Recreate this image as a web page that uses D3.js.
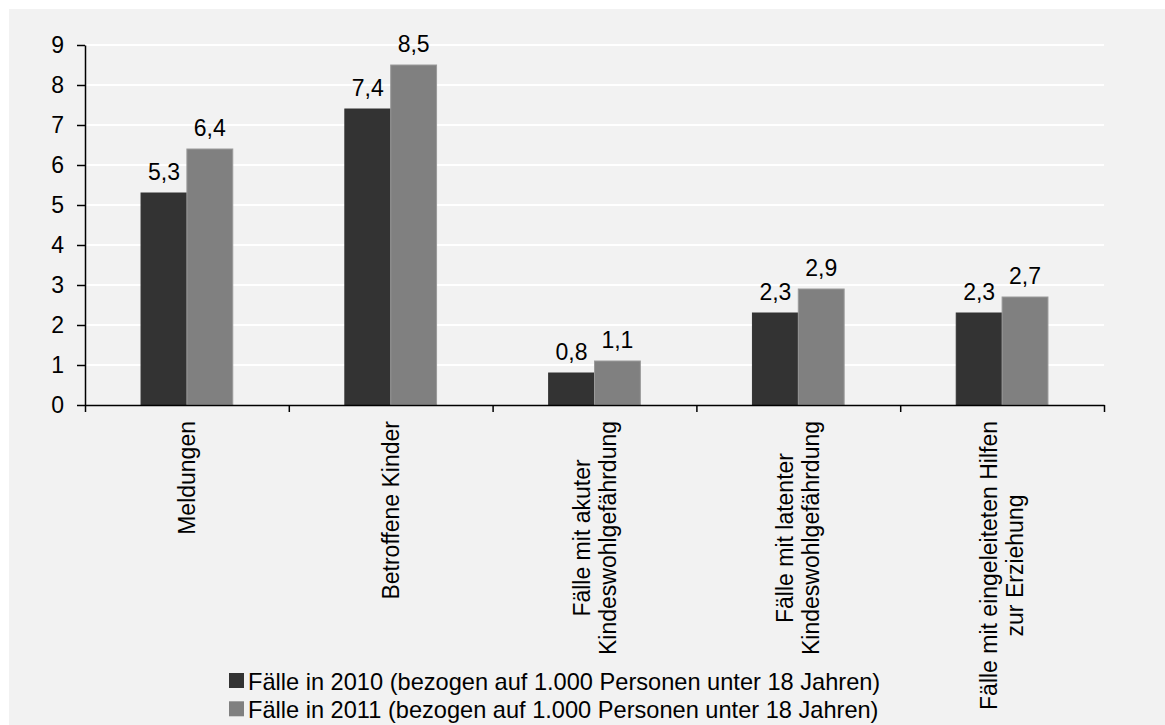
<!DOCTYPE html>
<html>
<head>
<meta charset="utf-8">
<script src="https://cdn.jsdelivr.net/npm/d3@7"></script>
<style>
  html, body { margin: 0; padding: 0; background: #ffffff; }
  svg { display: block; }
</style>
</head>
<body>
<svg id="chart" width="1165" height="725"></svg>
<script>
const categories = [
  ["Meldungen"],
  ["Betroffene Kinder"],
  ["Fälle mit akuter", "Kindeswohlgefährdung"],
  ["Fälle mit latenter", "Kindeswohlgefährdung"],
  ["Fälle mit eingeleiteten Hilfen", "zur Erziehung"]
];
const seriesNames = [
  "Fälle in 2010 (bezogen auf 1.000 Personen unter 18 Jahren)",
  "Fälle in 2011 (bezogen auf 1.000 Personen unter 18 Jahren)"
];
const values2010 = [5.3, 7.4, 0.8, 2.3, 2.3];
const values2011 = [6.4, 8.5, 1.1, 2.9, 2.7];
const yTicks = [0, 1, 2, 3, 4, 5, 6, 7, 8, 9];

(function () {
const colors = ["#333333", "#808080"];
const strokes = ["#333333", "#9a9a9a"];
const FONT = "'Liberation Sans', Arial, sans-serif";
const FS = 23;

const svg = d3.select("#chart");
svg.append("rect").attr("x", 9).attr("y", 9).attr("width", 1165 - 9).attr("height", 725 - 9).attr("fill", "#f2f2f2");

const mLeft = 85, mRight = 1104, mTop = 45, mBottom = 405;
const catIdx = categories.map((d, i) => i);
const x = d3.scaleBand().domain(catIdx).range([mLeft, mRight]).padding(0);
const x1 = d3.scaleBand().domain([0, 1]).range([x.bandwidth() * 0.275, x.bandwidth() * 0.725]).padding(0);
const y = d3.scaleLinear().domain([0, 9]).range([mBottom, mTop]);

// gridlines
svg.append("g").selectAll("line").data(yTicks.filter(t => t > 0)).join("line")
  .attr("x1", mLeft).attr("x2", mRight)
  .attr("y1", d => y(d)).attr("y2", d => y(d))
  .attr("stroke", "#ffffff").attr("stroke-width", 2);

// bars
const series = [values2010, values2011];
series.forEach((vals, s) => {
  svg.append("g").selectAll("rect").data(vals).join("rect")
    .attr("x", (d, i) => x(i) + x1(s))
    .attr("y", d => y(d))
    .attr("width", x1.bandwidth())
    .attr("height", d => y(0) - y(d))
    .attr("fill", colors[s])
    .attr("stroke", strokes[s]).attr("stroke-width", 1);
  svg.append("g").selectAll("text").data(vals).join("text")
    .attr("x", (d, i) => x(i) + x1(s) + x1.bandwidth() / 2)
    .attr("y", d => y(d) - 13)
    .attr("text-anchor", "middle")
    .attr("font-family", FONT).attr("font-size", FS).attr("fill", "#000")
    .text(d => d.toFixed(1).replace(".", ","));
});

// y axis
const yAxis = d3.axisLeft(y).tickValues(yTicks).tickSize(8).tickPadding(13).tickSizeOuter(0).tickFormat(d3.format("d"));
const gy = svg.append("g").attr("transform", `translate(${mLeft},0)`).call(yAxis);
gy.select(".domain").attr("stroke", "#000").attr("stroke-width", 1.5);
gy.selectAll(".tick line").attr("stroke", "#000").attr("stroke-width", 1.5);
gy.selectAll(".tick text").attr("font-family", FONT).attr("font-size", FS).attr("fill", "#000");

// x axis with boundary ticks
const bScale = d3.scaleLinear().domain([0, categories.length]).range([mLeft, mRight]);
const xAxis = d3.axisBottom(bScale).tickValues(d3.range(categories.length + 1)).tickSize(7).tickSizeOuter(0).tickFormat("");
const gx = svg.append("g").attr("transform", `translate(0,${mBottom})`).call(xAxis);
gx.select(".domain").attr("stroke", "#000").attr("stroke-width", 1.5);
gx.selectAll(".tick line").attr("stroke", "#000").attr("stroke-width", 1.5);

// category labels (rotated)
const lh = 26;
categories.forEach((lines, i) => {
  const cx = x(i) + x.bandwidth() / 2;
  const g = svg.append("g");
  const texts = lines.map((ln, j) => {
    const bx = cx + (j - (lines.length - 1) / 2) * lh + 0.35 * FS;
    return g.append("text")
      .attr("font-family", FONT).attr("font-size", FS).attr("fill", "#000")
      .attr("text-anchor", "middle")
      .attr("data-bx", bx)
      .text(ln);
  });
  const maxLen = d3.max(texts, t => t.node().getComputedTextLength());
  texts.forEach(t => {
    const bx = +t.attr("data-bx");
    const by = 421 + maxLen / 2;
    t.attr("transform", `translate(${bx},${by}) rotate(-90)`);
  });
});

// legend
const lg = svg.append("g");
seriesNames.forEach((name, s) => {
  const base = 690 + s * 28.3;
  lg.append("rect").attr("x", 229).attr("y", base - 17).attr("width", 15).attr("height", 15)
    .attr("fill", colors[s]);
  lg.append("text").attr("x", 248).attr("y", base)
    .attr("font-family", FONT).attr("font-size", 23.6).attr("fill", "#000")
    .text(name);
});
})();
</script>
</body>
</html>
